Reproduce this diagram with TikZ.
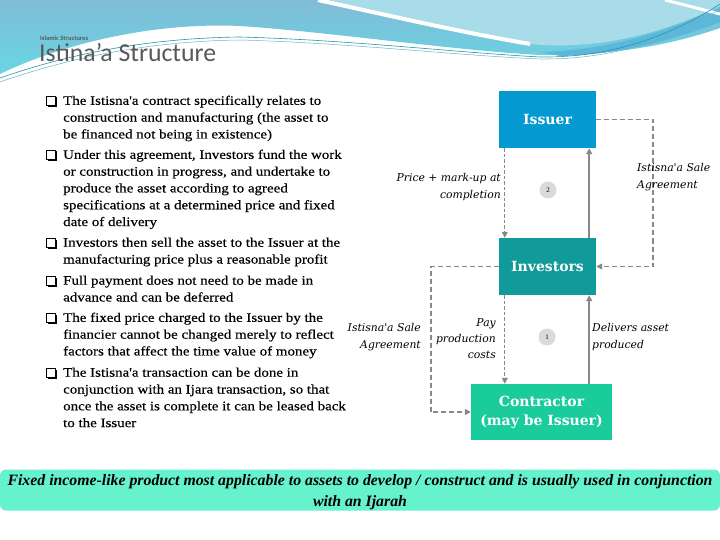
\documentclass[tikz,border=0pt]{standalone}
\usepackage{fontspec}
\setmainfont{Liberation Serif}
\newfontfamily\bulfont[FakeStretch=1.15,FakeBold=0.4]{Liberation Serif}
\newfontfamily\titlefont{Carlito}
\newfontfamily\labfont{DejaVu Serif}
\usetikzlibrary{arrows.meta}
\definecolor{issuerc}{RGB}{5,153,210}
\definecolor{investc}{RGB}{16,154,154}
\definecolor{contrc}{RGB}{26,204,156}
\definecolor{bannerc}{RGB}{102,242,204}
\definecolor{linkc}{RGB}{136,136,136}
\definecolor{circc}{RGB}{218,218,218}
\definecolor{titlec}{RGB}{89,89,89}
\definecolor{bgtop}{RGB}{128,188,214}
\definecolor{bgbot}{RGB}{104,214,228}
\definecolor{bglight}{RGB}{168,220,232}
\definecolor{bgband}{RGB}{92,184,218}
\definecolor{wavec}{RGB}{40,150,170}
\begin{document}
\begin{tikzpicture}[x=1pt,y=-1pt,
  box/.style={draw=none,text=white,font=\labfont\bfseries\fontsize{14}{19}\selectfont,align=center,inner sep=0pt},
  bul/.style={anchor=north west,align=left,inner sep=0pt,font=\bulfont\fontsize{13}{16.8}\selectfont},
  lab/.style={inner sep=0pt,font=\labfont\itshape\fontsize{10.8}{16.3}\selectfont},
  numc/.style={circle,fill=circc,minimum size=17pt,inner sep=0pt,font=\fontsize{7}{8}\selectfont},
  dasharrow/.style={draw=linkc,line width=1.8pt,dash pattern=on 5pt off 3pt,-{Triangle[length=6pt,width=6pt]}},
  thinarrow/.style={draw=linkc,line width=1.1pt,dash pattern=on 3.5pt off 2pt,-{Triangle[length=6pt,width=6pt]}},
  solidarrow/.style={draw=linkc,line width=2.2pt,-{Triangle[length=6pt,width=6pt]}},
  qbox/.pic={\draw[line width=0.7pt] (0,0) rectangle (9,9); \fill (9,1.5) rectangle (10.8,10.8); \fill (1.5,9) rectangle (10.8,10.8);}
]
\useasboundingbox (0,0) rectangle (720,540);
\fill[white] (0,0) rectangle (720,540);
% header waves
\shade[top color=bgtop, bottom color=bgbot] (0,0) -- (0,74) .. controls (60,45) and (150,22) .. (240,26) .. controls (330,32) and (450,50) .. (540,55) .. controls (620,56) and (680,42) .. (720,28) -- (720,0) -- cycle;
\fill[bglight] (318,0) .. controls (400,18) and (460,32) .. (530,44) .. controls (610,52) and (680,25) .. (720,6) -- (720,0) -- cycle;
\fill[bgband] (540,52) .. controls (620,50) and (680,25) .. (720,8) -- (720,22) .. controls (680,38) and (620,55) .. (560,56) -- cycle;
\draw[white,line width=4pt] (318,0) .. controls (400,18) and (460,32) .. (530,44);
\draw[white,line width=3pt] (665,0) -- (720,14);
\draw[wavec,line width=0.6pt] (0,78) .. controls (80,50) and (160,38) .. (240,37) .. controls (350,40) and (450,52) .. (540,57) .. controls (620,58) and (680,30) .. (720,4);
\draw[wavec!70,line width=0.5pt] (0,82) .. controls (80,54) and (160,41) .. (240,40) .. controls (350,43) and (450,55) .. (540,59) .. controls (620,60) and (680,34) .. (720,9);
% titles
\node[anchor=west,inner sep=0pt,text=titlec,font=\titlefont\bfseries\fontsize{6.5}{7}\selectfont] (sup) at (40,38) {Islamic Structures};
\node[anchor=base west,inner sep=0pt,text=titlec,font=\titlefont\fontsize{25.8}{28}\selectfont] (title) at (39,62) {Istina’a Structure};
% bullets
\foreach \yy in {96,150,238,276,313,368} \pic at (46,\yy) {qbox};
\node[bul] (b1) at (63,95.5) {The Istisna'a contract specifically relates to\\construction and manufacturing (the asset to\\be financed not being in existence)};
\node[bul] (b2) at (63,149.5) {Under this agreement, Investors fund the work\\or construction in progress, and undertake to\\produce the asset according to agreed\\specifications at a determined price and fixed\\date of delivery};
\node[bul] (b3) at (63,237.5) {Investors then sell the asset to the Issuer at the\\manufacturing price plus a reasonable profit};
\node[bul] (b4) at (63,275.5) {Full payment does not need to be made in\\advance and can be deferred};
\node[bul] (b5) at (63,312.5) {The fixed price charged to the Issuer by the\\financier cannot be changed merely to reflect\\factors that affect the time value of money};
\node[bul] (b6) at (63,367.5) {The Istisna'a transaction can be done in\\conjunction with an Ijara transaction, so that\\once the asset is complete it can be leased back\\to the Issuer};
% boxes
\node[box,fill=issuerc,minimum width=97pt,minimum height=57pt] (iss) at (547.5,119.5) {Issuer};
\node[box,fill=investc,minimum width=97pt,minimum height=57pt] (inv) at (547.5,266.5) {Investors};
\node[box,fill=contrc,minimum width=141pt,minimum height=56pt] (con) at (541.5,412) {Contractor\\(may be Issuer)};
\node[numc] (n2) at (548,190) {2};
\node[numc] (n1) at (547,337) {1};
% connectors
\draw[thinarrow] ([xshift=6pt]iss.south west) -- ([xshift=6pt]inv.north west);
\draw[solidarrow] ([xshift=-7pt]inv.north east) -- ([xshift=-7pt]iss.south east);
\draw[dasharrow] (iss.east) -- ++(57,0) |- (inv.east);
\draw[dasharrow] (inv.west) -- ++(-68,0) |- (con.west);
\draw[thinarrow] ([xshift=6pt]inv.south west) -- ([xshift=6pt]inv.south west |- con.north);
\draw[solidarrow] ([xshift=-7pt]inv.south east |- con.north) -- ([xshift=-7pt]inv.south east);
% labels
\node[lab,anchor=east,align=right] (l1) at (501,187) {Price + mark-up at\\completion};
\node[lab,anchor=west,align=left] (l2) at (637,177) {Istisna'a Sale\\Agreement};
\node[lab,anchor=east,align=right] (l3) at (421,337) {Istisna'a Sale\\Agreement};
\node[lab,anchor=east,align=right] (l4) at (496,338.5) {Pay\\production\\costs};
\node[lab,anchor=west,align=left] (l5) at (592,337) {Delivers asset\\produced};
% banner
\node[fill=bannerc,rounded corners=6pt,minimum width=720pt,minimum height=41pt,inner sep=0pt] (ban) at (360,490) {};
\node[inner sep=0pt,align=center,font=\bfseries\itshape\fontsize{15.8}{21}\selectfont] (bantext) at (360,492) {Fixed income-like product most applicable to assets to develop / construct and is usually used in conjunction\\with an Ijarah};
\end{tikzpicture}
\end{document}
